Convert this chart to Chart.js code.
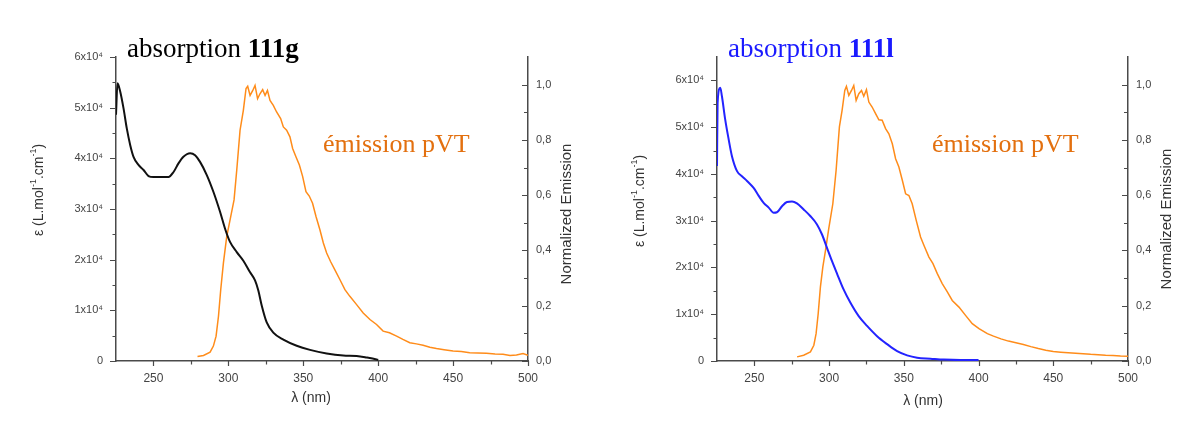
<!DOCTYPE html>
<html><head><meta charset="utf-8">
<script src="https://cdn.jsdelivr.net/npm/chart.js@4"></script>
<style>
html,body{margin:0;padding:0;background:#fff;}
#wrap{position:relative;width:1204px;height:423px;overflow:hidden;background:#fff;}
.p{position:absolute;top:0;height:423px;}
</style></head><body>
<div id="wrap">
<div class="p" style="left:0;width:600px"><canvas id="c1"></canvas></div>
<div class="p" style="left:600px;width:604px"><canvas id="c2"></canvas></div>
</div>
<script>
// ---------- Panel 1 : absorption 111g ----------
const absG_x = [225, 226, 227.8, 230, 232.2, 234.5, 236.7, 240, 243.4, 246.7, 250, 256.7, 260, 263.4, 266.7, 270, 274.5, 277.8, 281.1, 285.6, 290, 294.5, 297.8, 301.1, 305.6, 310, 314.5, 317.8, 320, 322.3, 325.6, 330, 336.7, 345.6, 354.5, 365.6, 376.7, 385.6, 392.2, 398.9, 400];
const absG_y = [48600, 54800, 53200, 49900, 45900, 42600, 40300, 38700, 37700, 36500, 36300, 36300, 36300, 37300, 39000, 40300, 41000, 40600, 39300, 36700, 33400, 29400, 26100, 23500, 21500, 19800, 17500, 15900, 13900, 10900, 7600, 5600, 4200, 3000, 2200, 1500, 1100, 1000, 700, 300, 200];
const emG_x = [279.4, 283.4, 287.8, 290, 291.8, 293.4, 294.9, 296.7, 298.9, 301.6, 303.8, 305.6, 307.8, 310, 311.8, 312.9, 314.5, 316.3, 317.8, 319.5, 321.1, 322.9, 324.5, 326.1, 327.8, 330, 332.2, 334.9, 336.7, 338.9, 341.1, 342.9, 345.1, 347.4, 349.6, 351.8, 354, 356.2, 358.5, 361.1, 363.4, 365.6, 368.2, 371.1, 374.5, 377.8, 381.1, 385.6, 390, 394.5, 398.9, 403.3, 407.5, 412.3, 416.5, 421.1, 425.5, 430, 434.5, 438.9, 444, 450, 455.5, 461.1, 466.5, 472.3, 478, 483.3, 488, 492.3, 496.7, 500];
const emG_y = [0.016, 0.020, 0.032, 0.054, 0.090, 0.162, 0.258, 0.355, 0.45, 0.523, 0.583, 0.691, 0.835, 0.907, 0.986, 0.994, 0.961, 0.979, 0.997, 0.949, 0.967, 0.982, 0.961, 0.979, 0.943, 0.925, 0.901, 0.877, 0.847, 0.835, 0.811, 0.769, 0.739, 0.709, 0.667, 0.613, 0.597, 0.571, 0.523, 0.475, 0.427, 0.391, 0.36, 0.33, 0.294, 0.258, 0.234, 0.204, 0.174, 0.150, 0.132, 0.108, 0.102, 0.090, 0.078, 0.066, 0.062, 0.057, 0.050, 0.045, 0.041, 0.036, 0.034, 0.030, 0.029, 0.028, 0.025, 0.024, 0.020, 0.022, 0.027, 0.021];

// ---------- Panel 2 : absorption 111l ----------
const absL_x = [225, 225.4, 227.2, 228.3, 230.5, 232.8, 235, 238.4, 241.7, 245.1, 249.5, 252.9, 256.2, 259.6, 262.9, 265.1, 268.5, 271.8, 275.2, 278.5, 283, 287.4, 291.9, 295.2, 298.6, 301.9, 305.3, 309.7, 314.2, 319.8, 325.4, 332.1, 338.8, 345.5, 352.2, 358.9, 367.8, 376.7, 387.9, 400];
const absL_y = [41700, 55200, 58400, 56600, 51600, 47400, 43800, 40600, 39500, 38500, 37000, 35300, 33800, 32800, 31700, 31800, 33100, 34000, 34100, 33700, 32400, 31000, 29200, 27100, 24200, 21400, 18700, 15300, 12500, 9600, 7500, 5300, 3600, 2100, 1200, 700, 500, 300, 200, 200];
const emL_x = [278.6, 283, 287.5, 289.8, 291.3, 292.7, 294.2, 295.8, 297.6, 299.8, 302.5, 304.7, 306.9, 308.7, 310.5, 311.6, 313.2, 315, 316.5, 318.1, 319.9, 321.7, 323.2, 325, 326.6, 328.8, 331.1, 333.3, 335.5, 337.8, 340, 342.3, 344.5, 346.7, 349, 351.2, 353.4, 355.6, 358.3, 361.2, 363.5, 366.8, 369.5, 372.4, 375.7, 379.1, 382.4, 386.9, 391.3, 395.8, 400.3, 405.9, 410, 415, 420, 425, 430, 435, 440, 445, 450, 455, 460, 465, 470, 475, 480, 485, 490, 495, 500];
const emL_y = [0.015, 0.021, 0.033, 0.057, 0.099, 0.171, 0.268, 0.34, 0.40, 0.48, 0.569, 0.690, 0.847, 0.907, 0.979, 0.994, 0.961, 0.979, 0.997, 0.943, 0.967, 0.979, 0.958, 0.982, 0.937, 0.919, 0.895, 0.873, 0.871, 0.841, 0.822, 0.786, 0.732, 0.702, 0.654, 0.605, 0.599, 0.569, 0.509, 0.449, 0.418, 0.376, 0.352, 0.316, 0.280, 0.250, 0.219, 0.195, 0.165, 0.135, 0.117, 0.099, 0.090, 0.080, 0.072, 0.066, 0.060, 0.052, 0.045, 0.039, 0.034, 0.032, 0.030, 0.028, 0.026, 0.024, 0.023, 0.021, 0.020, 0.018, 0.017];

// ---------- axes / ticks ----------
const X_MIN = 225, X_MAX = 500;
const X_TICKS = [250, 300, 350, 400, 450, 500];
const X_MINOR = [275, 325, 375, 425, 475];
const EPS_MAX_G = 60000, EPS_MAX_L = 65000;
const EPS_TICKS = [0, 10000, 20000, 30000, 40000, 50000, 60000];
const EPS_MINOR = [5000, 15000, 25000, 35000, 45000, 55000];
const EM_MAX = 1.1;
const EM_TICKS = [0, 0.2, 0.4, 0.6, 0.8, 1.0];
const EM_MINOR = [0.1, 0.3, 0.5, 0.7, 0.9];

const AXIS = '#4a4a4a';
const TICKC = '#444';
const ORANGE = '#ff8c1a';
const ORANGE_TXT = '#e3700f';
const SANS = '"Liberation Sans", Arial, sans-serif';
const SERIF = '"Liberation Serif", "Times New Roman", serif';

function pts(xs, ys) { return xs.map((x, i) => ({x: x, y: ys[i]})); }

function drawRich(ctx, parts, x, y, align) {
  let w = 0;
  parts.forEach(p => { ctx.font = p.font; w += ctx.measureText(p.t).width; });
  let cx = align === 'center' ? x - w / 2 : x;
  parts.forEach(p => {
    ctx.font = p.font;
    if (p.color) ctx.fillStyle = p.color;
    ctx.fillText(p.t, cx, y + (p.dy || 0));
    cx += ctx.measureText(p.t).width;
  });
}

function makeDeco(o) {
  return {
    id: 'deco',
    afterDraw(chart) {
      const ctx = chart.ctx, sx = chart.scales.x, sy = chart.scales.y, s2 = chart.scales.y2;
      ctx.save();
      ctx.strokeStyle = AXIS; ctx.lineWidth = 1.2;
      ctx.beginPath();
      const xt = (v, len) => { const px = Math.round(sx.getPixelForValue(v)) + 0.5; ctx.moveTo(px, sx.top); ctx.lineTo(px, sx.top + len); };
      X_TICKS.forEach(v => xt(v, 5)); X_MINOR.forEach(v => xt(v, 3.5));
      const yt = (v, len) => { if (v > sy.max) return; const py = Math.round(sy.getPixelForValue(v)) + 0.5; ctx.moveTo(sy.right, py); ctx.lineTo(sy.right - len, py); };
      EPS_TICKS.forEach(v => yt(v, 6)); EPS_MINOR.forEach(v => yt(v, 3.5));
      const y2t = (v, len) => { const py = Math.round(s2.getPixelForValue(v)) + 0.5; ctx.moveTo(s2.left, py); ctx.lineTo(s2.left - len, py); };
      EM_TICKS.forEach(v => y2t(v, 6)); EM_MINOR.forEach(v => y2t(v, 4));
      ctx.stroke();

      // axis titles
      ctx.fillStyle = '#333';
      ctx.textBaseline = 'middle';
      drawRich(ctx, [{t: 'λ (nm)', font: '14px ' + SANS}], o.xt[0], o.xt[1], 'center');

      ctx.save();
      ctx.translate(o.yt[0], o.yt[1]); ctx.rotate(-Math.PI / 2);
      const f = '14px ' + SANS, fs = '9px ' + SANS;
      drawRich(ctx, [
        {t: 'ε (L.mol', font: f}, {t: '-1', font: fs, dy: -5},
        {t: '.cm', font: f}, {t: '-1', font: fs, dy: -5}, {t: ')', font: f}
      ], 0, 0, 'center');
      ctx.restore();

      ctx.save();
      ctx.translate(o.y2t[0], o.y2t[1]); ctx.rotate(-Math.PI / 2);
      drawRich(ctx, [{t: 'Normalized Emission', font: '15px ' + SANS}], 0, 0, 'center');
      ctx.restore();

      // in-plot titles
      ctx.textBaseline = 'alphabetic';
      drawRich(ctx, [
        {t: 'absorption ', font: '27px ' + SERIF, color: o.titleColor},
        {t: o.label, font: 'bold 27px ' + SERIF, color: o.titleColor}
      ], o.tt[0], o.tt[1], 'left');
      drawRich(ctx, [{t: 'émission pVT', font: '26px ' + SERIF, color: ORANGE_TXT}], o.et[0], o.et[1], 'left');
      ctx.restore();
    }
  };
}

function build(id, o) {
  const tickFont = {family: SANS, size: 11};
  new Chart(document.getElementById(id), {
    type: 'line',
    data: {
      datasets: [
        {data: pts(o.ax, o.ay), yAxisID: 'y', borderColor: o.absColor, borderWidth: 2, pointRadius: 0, cubicInterpolationMode: 'monotone', fill: false},
        {data: pts(o.ex, o.ey), yAxisID: 'y2', borderColor: ORANGE, borderWidth: 1.5, pointRadius: 0, tension: 0, fill: false}
      ]
    },
    options: {
      responsive: true, maintainAspectRatio: false, animation: false,
      layout: {padding: {top: 57, left: 0, right: 0, bottom: 0}},
      plugins: {legend: {display: false}, tooltip: {enabled: false}},
      scales: {
        x: {
          type: 'linear', min: X_MIN, max: X_MAX,
          grid: {drawOnChartArea: false, drawTicks: false},
          border: {display: true, color: AXIS, width: 1.5},
          ticks: {padding: 10, color: TICKC, font: {family: SANS, size: 12}, maxRotation: 0, autoSkip: false},
          afterBuildTicks: s => { s.ticks = X_TICKS.map(v => ({value: v})); },
          afterFit: s => { s.height = 62; }
        },
        y: {
          type: 'linear', position: 'left', min: 0, max: o.epsMax,
          grid: {drawOnChartArea: false, drawTicks: false},
          border: {display: true, color: AXIS, width: 1.5},
          ticks: {padding: 13, color: TICKC, font: tickFont, autoSkip: false,
                  callback: v => v === 0 ? '0' : (v / 10000) + 'x10⁴'},
          afterBuildTicks: s => { s.ticks = EPS_TICKS.map(v => ({value: v})); },
          afterFit: s => { s.width = o.yw; }
        },
        y2: {
          type: 'linear', position: 'right', min: 0, max: EM_MAX,
          grid: {drawOnChartArea: false, drawTicks: false},
          border: {display: true, color: AXIS, width: 1.5},
          ticks: {padding: 8, color: TICKC, font: tickFont, autoSkip: false,
                  callback: v => v.toFixed(1).replace('.', ',')},
          afterBuildTicks: s => { s.ticks = EM_TICKS.map(v => ({value: v})); },
          afterFit: s => { s.width = o.y2w; }
        }
      }
    },
    plugins: [makeDeco(o)]
  });
}

build('c1', {ax: absG_x, ay: absG_y, ex: emG_x, ey: emG_y, absColor: '#111', epsMax: EPS_MAX_G,
  yw: 116, y2w: 72, xt: [311, 398], yt: [39, 190], y2t: [567, 214],
  label: '111g', titleColor: '#000', tt: [127, 57], et: [323, 152]});
build('c2', {ax: absL_x, ay: absL_y, ex: emL_x, ey: emL_y, absColor: '#2323ff', epsMax: EPS_MAX_L,
  yw: 117, y2w: 76, xt: [323, 401], yt: [40, 201], y2t: [567, 219],
  label: '111l', titleColor: '#1a1aff', tt: [128, 57], et: [332, 152]});
</script>
</body></html>
